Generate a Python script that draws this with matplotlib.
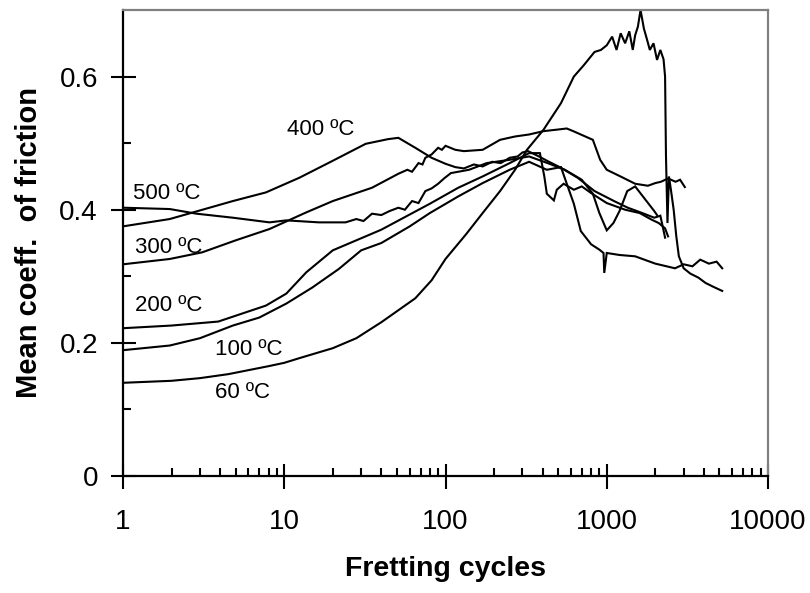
import matplotlib
matplotlib.use("Agg")
import matplotlib.pyplot as plt
from matplotlib.ticker import LogLocator, FixedLocator, NullFormatter, FixedFormatter

plt.rcParams['font.family'] = ['Liberation Sans', 'DejaVu Sans']

# ---- data ----
c60_x = [1, 2, 3, 4.5, 6, 8, 10, 12.4, 16, 20, 28, 40, 51, 65, 82, 100, 134, 170, 218, 270,
         320, 405, 520, 625, 720, 840, 920, 1000, 1080, 1150, 1220, 1300, 1380, 1450, 1500,
         1560, 1620, 1700, 1780, 1850, 1950, 2050, 2150, 2250, 2300, 2330, 2380, 2430, 2500,
         2600, 2700, 2800, 3000, 3300, 3700, 4100, 4600, 5200]
c60_y = [0.140, 0.143, 0.147, 0.153, 0.159, 0.165, 0.170, 0.177, 0.185, 0.192, 0.207, 0.231,
         0.249, 0.267, 0.294, 0.326, 0.363, 0.395, 0.428, 0.460, 0.490, 0.520, 0.560, 0.600,
         0.617, 0.637, 0.640, 0.647, 0.660, 0.640, 0.665, 0.650, 0.668, 0.640, 0.662, 0.675,
         0.700, 0.672, 0.655, 0.640, 0.650, 0.625, 0.640, 0.626, 0.600, 0.480, 0.380, 0.450,
         0.430, 0.400, 0.360, 0.330, 0.312, 0.304, 0.298, 0.290, 0.284, 0.278]

c100_x = [1, 1.95, 3, 4.8, 7, 10.3, 14.9, 21.8, 30, 40, 60, 80, 120, 170, 250, 330, 425, 520,
          565, 625, 690, 800, 900, 955, 965, 1000, 1200, 1500, 2000, 2650, 3000, 3400, 3800,
          4300, 4800, 5200]
c100_y = [0.189, 0.196, 0.207, 0.226, 0.238, 0.259, 0.283, 0.311, 0.339, 0.350, 0.375, 0.395,
          0.420, 0.440, 0.460, 0.472, 0.460, 0.464, 0.439, 0.409, 0.368, 0.348, 0.340, 0.335,
          0.305, 0.335, 0.332, 0.330, 0.319, 0.312, 0.318, 0.315, 0.325, 0.319, 0.322, 0.312]

c200_x = [1, 2, 3.9, 7.7, 10.3, 13.7, 20, 40, 80, 120, 170, 250, 330, 385, 410, 425, 470,
          490, 540, 625, 700, 800, 1000, 1300, 1600, 1900, 2100, 2300, 2400]
c200_y = [0.222, 0.226, 0.232, 0.256, 0.274, 0.306, 0.339, 0.370, 0.409, 0.433, 0.450, 0.470,
          0.485, 0.485, 0.450, 0.424, 0.414, 0.430, 0.439, 0.430, 0.435, 0.425, 0.410, 0.400,
          0.395, 0.385, 0.380, 0.372, 0.360]

c300_x = [1, 1.95, 3.1, 5, 8.1, 13.7, 20, 35, 51, 58, 62, 68, 72, 75, 82, 90, 95, 100, 115,
          130, 170, 218, 270, 330, 405, 480, 565, 620, 690, 820, 910, 1000, 1240, 1500, 1800,
          2000, 2170, 2400, 2670, 2850, 3050]
c300_y = [0.318, 0.326, 0.336, 0.354, 0.371, 0.396, 0.413, 0.433, 0.454, 0.460, 0.457, 0.470,
          0.468, 0.478, 0.483, 0.493, 0.490, 0.496, 0.490, 0.488, 0.490, 0.505, 0.510, 0.513,
          0.518, 0.520, 0.522, 0.518, 0.513, 0.505, 0.475, 0.460, 0.449, 0.439, 0.436, 0.440,
          0.442, 0.447, 0.442, 0.445, 0.434]

c400_x = [1, 1.95, 4.8, 7.7, 12.4, 19.8, 32, 44, 51, 65, 82, 100, 115, 130, 150, 170, 195,
          220, 250, 280, 300, 325, 380, 430, 520, 660, 840, 1110, 1350, 1620, 1970, 2150,
          2250, 2300]
c400_y = [0.375, 0.386, 0.413, 0.426, 0.448, 0.473, 0.499, 0.506, 0.508, 0.493, 0.478, 0.469,
          0.464, 0.462, 0.468, 0.465, 0.472, 0.470, 0.478, 0.480, 0.486, 0.488, 0.480, 0.473,
          0.463, 0.448, 0.428, 0.413, 0.403, 0.396, 0.388, 0.391, 0.369, 0.358]

c500_x = [1, 1.95, 2.86, 4.8, 8.1, 10.3, 16.4, 24, 28, 31, 35, 40, 45, 51, 56, 62, 68, 75,
          82, 90, 98, 108, 140, 180, 250, 330, 430, 550, 700, 820, 900, 1000, 1100, 1200,
          1340, 1500, 1700, 1970, 2050]
c500_y = [0.403, 0.401, 0.394, 0.388, 0.381, 0.384, 0.381, 0.381, 0.386, 0.383, 0.394, 0.392,
          0.398, 0.403, 0.400, 0.413, 0.410, 0.428, 0.432, 0.439, 0.447, 0.455, 0.460, 0.470,
          0.475, 0.480, 0.470, 0.460, 0.445, 0.424, 0.395, 0.369, 0.380, 0.398, 0.428, 0.435,
          0.418, 0.398, 0.392]

labels = ["60 \u00baC", "100 \u00baC", "200 \u00baC", "300 \u00baC", "400 \u00baC", "500 \u00baC"]
label_x = [3.71, 3.71, 1.19, 1.19, 10.4, 1.15]
label_y = [0.126, 0.190, 0.256, 0.343, 0.521, 0.424]

x_ticks = [1, 10, 100, 1000, 10000]
x_ticklabels = ["1", "10", "100", "1000", "10000"]
y_ticks = [0, 0.2, 0.4, 0.6]
y_ticklabels = ["0", "0.2", "0.4", "0.6"]

# ---- figure ----
fig = plt.figure(figsize=(8.1, 5.93), dpi=100)
ax = fig.add_axes([123/810, 117/593, 645/810, 466/593])

for xs, ys in [(c60_x, c60_y), (c100_x, c100_y), (c200_x, c200_y),
               (c300_x, c300_y), (c400_x, c400_y), (c500_x, c500_y)]:
    ax.plot(xs, ys, color='black', lw=1.5, solid_joinstyle='miter')

for t, lx, ly in zip(labels, label_x, label_y):
    ax.text(lx, ly, t, fontsize=16, ha='left', va='center', color='black')

ax.set_xscale('log')
ax.set_xlim(1, 10000)
ax.set_ylim(0, 0.7)

ax.xaxis.set_major_locator(FixedLocator(x_ticks))
ax.xaxis.set_major_formatter(FixedFormatter(x_ticklabels))
ax.xaxis.set_minor_locator(LogLocator(base=10, subs=range(2, 10), numticks=20))
ax.xaxis.set_minor_formatter(NullFormatter())
ax.yaxis.set_major_locator(FixedLocator(y_ticks))
ax.yaxis.set_major_formatter(FixedFormatter(y_ticklabels))
ax.yaxis.set_minor_locator(FixedLocator([0.1, 0.3, 0.5]))

ax.tick_params(axis='both', which='major', direction='inout', length=18, width=1.5,
               labelsize=20)
ax.tick_params(axis='both', which='minor', direction='in', length=6, width=1.5)
ax.tick_params(axis='x', which='major', pad=15)
ax.tick_params(axis='y', which='major', pad=9)

for s in ['left', 'bottom']:
    ax.spines[s].set_color('black')
    ax.spines[s].set_linewidth(1.6)
for s in ['top', 'right']:
    ax.spines[s].set_color('#808080')
    ax.spines[s].set_linewidth(1.6)

ax.set_xlabel("Fretting cycles", fontsize=20.5, fontweight='bold', labelpad=15)
ax.set_ylabel("Mean coeff.  of friction", fontsize=21, fontweight='bold', labelpad=12)

fig.savefig("out.png", dpi=100)
